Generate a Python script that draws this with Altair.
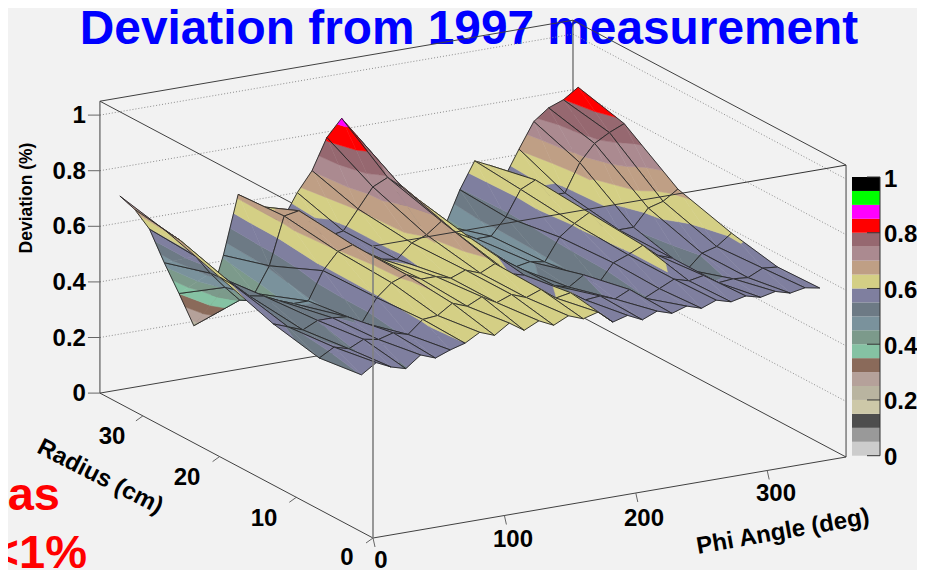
import altair as alt
import pandas as pd

# ---- data ----
PHI = [0, 11.25, 22.5, 33.75, 45, 56.25, 67.5, 78.75, 90, 101.25, 112.5, 123.75, 135, 146.25, 157.5, 168.75,
       180, 191.25, 202.5, 213.75, 225, 236.25, 247.5, 258.75, 270, 281.25, 292.5, 303.75, 315, 326.25, 337.5, 348.75]
RADIUS = [1.5, 7, 13, 20, 27, 33]
DEV_R1 = [.565, .60, .575, .56, .60, .58, .60, .615, .645, .625, .66, .625, .65, .625, .65, .63,
          .645, .60, .615, .59, .612, .595, .612, .595, .615, .60, .612, .598, .61, .595, .605, .595]
DEV_R7 = [.545, .575, .56, .585, .575, .59, .575, .62, .625, .66, .64, .665, .635, .655, .635, .655,
          .615, .625, .59, .595, .575, .60, .56, .585, .61, .595, .605, .57, .575, .57, .595, .59]
DEV_R13 = [.58, .56, .54, .565, .565, .56, .53, .61, .655, .675, .65, .65, .635, .655, .635, .66,
           .615, .60, .54, .545, .53, .565, .525, .59, .61, .635, .59, .57, .52, .57, .585, .624]
DEV_R20 = [.646, .605, .56, .55, .525, .505, .505, .605, .665, .68, .64, .61, .60, .65, .67, .71,
           .66, .63, .56, .54, .50, .51, .50, .58, .62, .65, .59, .57, .57, .63, .645, .68]
DEV_R27 = [.709, .665, .60, .53, .47, .415, .43, .52, .69, .70, .65, .59, .60, .67, .74, .765,
           .72, .67, .61, .56, .52, .49, .49, .55, .64, .665, .60, .60, .70, .76, .79, .813]
DEV_R33 = [.747, .69, .61, .48, .36, .235, .30, .47, .68, .63, .575, .56, .65, .72, .83, .89,
           .82, .72, .62, .54, .47, .43, .44, .56, .655, .63, .575, .67, .76, .80, .82, .856]
DEV = [DEV_R1, DEV_R7, DEV_R13, DEV_R20, DEV_R27, DEV_R33]
PALETTE = ['#cccccc', '#999999', '#4d4d4d', '#cdc8a8', '#b9b4a0', '#b5a19a', '#8a6a5a', '#85c2a3', '#7c9a8b', '#7a929c',
           '#6d7a85', '#7f7f9f', '#d4cf85', '#bf9f85', '#ab8a90', '#966870', '#ff0000', '#ff00ff', '#00ff00', '#000000']
Z_TICKS = [0, .2, .4, .6, .8, 1]
Z_LABELS = ['0', '0.2', '0.4', '0.6', '0.8', '1']
R_TICKS = [10, 20, 30]
PHI_TICKS = [100, 200, 300]
TITLE = 'Deviation from 1997 measurement'

W, H = 909, 562
PHI_MAX, R_MAX, Z_MAX = 360, 35.6, 1.05
COLOR_GAIN = 0.975


def P(phi, r, z):
    return (373 + 1.314 * phi - 7.67 * r - 8, 538 - 0.225 * phi - 4.07 * r - 278 * z - 8)


def clip(poly, level, keep_above):
    out = []
    for i, a in enumerate(poly):
        b = poly[(i + 1) % len(poly)]
        ina = a[2] >= level if keep_above else a[2] <= level
        inb = b[2] >= level if keep_above else b[2] <= level
        if ina:
            out.append(a)
        if ina != inb:
            t = (level - a[2]) / (b[2] - a[2])
            out.append(tuple(a[k] + t * (b[k] - a[k]) for k in range(3)))
    return out


def feature(kind, coords, fill, stroke, w):
    return {'type': 'Feature', 'geometry': {'type': kind, 'coordinates': coords},
            'properties': {'fill': fill, 'stroke': stroke, 'w': w}}


features = []
for ir in range(len(RADIUS) - 2, -1, -1):
    for ip in range(len(PHI) - 2, -1, -1):
        corners = [(ir, ip), (ir, ip + 1), (ir + 1, ip + 1), (ir + 1, ip)]
        pts = []
        for a, b in corners:
            x, y = P(PHI[b], RADIUS[a], DEV[a][b])
            pts.append((x, y, DEV[a][b] * COLOR_GAIN))
        for tri in ([pts[0], pts[1], pts[2]], [pts[0], pts[2], pts[3]]):
            for k, col in enumerate(PALETTE):
                lo, hi = k * 0.05, (k + 1) * 0.05
                if min(p[2] for p in tri) > hi or max(p[2] for p in tri) < lo:
                    continue
                poly = clip(clip(tri, lo, True), hi, False)
                if len(poly) < 3:
                    continue
                ring = [[round(p[0], 2), round(p[1], 2)] for p in poly]
                ring.append(ring[0])
                features.append(feature('Polygon', [ring], col, col, 0.5))
        line = [[round(p[0], 2), round(p[1], 2)] for p in pts]
        line.append(line[0])
        features.append(feature('LineString', line, 'none', '#262626', 0.9))

sx = alt.Scale(domain=[0, W], range=[0, W])
sy = alt.Scale(domain=[0, H], range=[0, H])


def segs(rows, **style):
    df = pd.DataFrame(rows, columns=['x', 'y', 'x2', 'y2'])
    return alt.Chart(df).mark_rule(**style).encode(
        x=alt.X('x:Q', scale=sx, axis=None), y=alt.Y('y:Q', scale=sy, axis=None),
        x2='x2:Q', y2='y2:Q')


def seg3(a, b):
    return [*P(*a), *P(*b)]


def texts(rows, color='black', font='Liberation Sans', **style):
    df = pd.DataFrame(rows, columns=['x', 'y', 't'])
    return alt.Chart(df).mark_text(font=font, fontWeight='bold', color=color, **style).encode(
        x=alt.X('x:Q', scale=sx, axis=None), y=alt.Y('y:Q', scale=sy, axis=None), text='t:N')


def px(x, y, t):
    return [x - 8, y - 8, t]


title = texts([px(469, 43.5, TITLE)], color='#0000ff', fontSize=47.8, align='center', baseline='alphabetic')
red1 = texts([px(60, 510, 'as')], color='#ff0000', fontSize=47, align='right', baseline='alphabetic')
red2 = texts([px(87, 568, '<1%')], color='#ff0000', fontSize=47, align='right', baseline='alphabetic')

grid_rows = []
for z in Z_TICKS[1:]:
    grid_rows.append(seg3((0, R_MAX, z), (PHI_MAX, R_MAX, z)))
    grid_rows.append(seg3((PHI_MAX, R_MAX, z), (PHI_MAX, 0, z)))
grid = segs(grid_rows, color='#8c8c8c', strokeWidth=1, strokeDash=[1, 2])

back_rows = [
    seg3((0, R_MAX, 0), (0, R_MAX, Z_MAX)),
    seg3((PHI_MAX, R_MAX, 0), (PHI_MAX, R_MAX, Z_MAX)),
    seg3((PHI_MAX, 0, 0), (PHI_MAX, 0, Z_MAX)),
    seg3((0, R_MAX, Z_MAX), (PHI_MAX, R_MAX, Z_MAX)),
    seg3((PHI_MAX, R_MAX, Z_MAX), (PHI_MAX, 0, Z_MAX)),
    seg3((0, R_MAX, Z_MAX), (0, 0, Z_MAX)),
    seg3((0, R_MAX, 0), (PHI_MAX, R_MAX, 0)),
    seg3((PHI_MAX, R_MAX, 0), (PHI_MAX, 0, 0)),
    seg3((0, R_MAX, 0), (0, 0, 0)),
    seg3((0, 0, 0), (PHI_MAX, 0, 0)),
]
back = segs(back_rows, color='#404040', strokeWidth=1)

surface = alt.Chart(alt.Data(values=features)).mark_geoshape().encode(
    fill=alt.Fill('properties.fill:N', scale=None),
    stroke=alt.Stroke('properties.stroke:N', scale=None),
    strokeWidth=alt.StrokeWidth('properties.w:Q', scale=None),
).project(type='identity', scale=1, translate=[0, 0])

front_top = segs([seg3((0, 0, Z_MAX), (PHI_MAX, 0, Z_MAX))], color='#333333', strokeWidth=1)
front_vert = segs([seg3((0, 0, 0), (0, 0, Z_MAX))], color='#808080', strokeWidth=1.6)

tick_rows = []
for z in Z_TICKS:
    x, y = P(0, R_MAX, z)
    tick_rows.append([x - 12, y, x, y])
for r in R_TICKS + [0]:
    x, y = P(0, r, 0)
    tick_rows.append([x, y, x - 7, y + 5])
for p in PHI_TICKS + [0]:
    x, y = P(p, 0, 0)
    tick_rows.append([x, y, x + 2, y + 9])
ticks = segs(tick_rows, color='#666666', strokeWidth=1)

zt = texts([[P(0, R_MAX, z)[0] - 14, P(0, R_MAX, z)[1] + 1, s] for z, s in zip(Z_TICKS, Z_LABELS)],
           fontSize=24, align='right', baseline='middle')
rt = texts([px(112, 437, '30'), px(187, 478, '20'), px(264, 519, '10'), px(347, 558, '0')],
           fontSize=24, align='center', baseline='middle')
pt = texts([px(381, 561, '0'), px(513, 540, '100'), px(644, 519, '200'), px(776, 494, '300')],
           fontSize=24, align='center', baseline='middle')
ttl_z = texts([px(27, 198, 'Deviation (%)')], fontSize=17.5, angle=270, align='center', baseline='middle')
ttl_r = texts([px(100, 477, 'Radius (cm)')], fontSize=24, angle=27, align='center', baseline='middle')
ttl_p = texts([px(783, 532, 'Phi Angle (deg)')], fontSize=24, angle=350, align='center', baseline='middle')

BAR_TOP, BAR_BOTTOM = 177 - 8, 455.7 - 8
step = (BAR_BOTTOM - BAR_TOP) / len(PALETTE)
bar_df = pd.DataFrame({
    'x': [844] * 20, 'x2': [872] * 20,
    'y': [BAR_BOTTOM - (i + 1) * step for i in range(20)],
    'y2': [BAR_BOTTOM - i * step for i in range(20)],
    'c': PALETTE})
bar = alt.Chart(bar_df).mark_rect().encode(
    x=alt.X('x:Q', scale=sx, axis=None), x2='x2:Q',
    y=alt.Y('y:Q', scale=sy, axis=None), y2='y2:Q',
    fill=alt.Fill('c:N', scale=None))
bar_rows = [[872, BAR_TOP, 872, BAR_BOTTOM]]
label_rows = []
for z, s in zip(Z_TICKS, Z_LABELS):
    y = BAR_BOTTOM - z * (BAR_BOTTOM - BAR_TOP)
    bar_rows.append([859, y, 872, y])
    label_rows.append([876, y + 2.5, s])
bar_ticks = segs(bar_rows, color='#333333', strokeWidth=1)
bar_text = texts(label_rows, fontSize=24, align='left', baseline='middle')

chart = alt.layer(
    title, grid, back, surface, front_top, front_vert, ticks,
    zt, rt, pt, ttl_z, ttl_r, ttl_p, bar, bar_ticks, bar_text, red1, red2,
).properties(
    width=W, height=H, background='#f2f2f2', padding=0,
    autosize=alt.AutoSizeParams(type='none'),
).configure_view(stroke=None)

chart.save('out.html', embed_options={'renderer': 'svg', 'actions': False})
